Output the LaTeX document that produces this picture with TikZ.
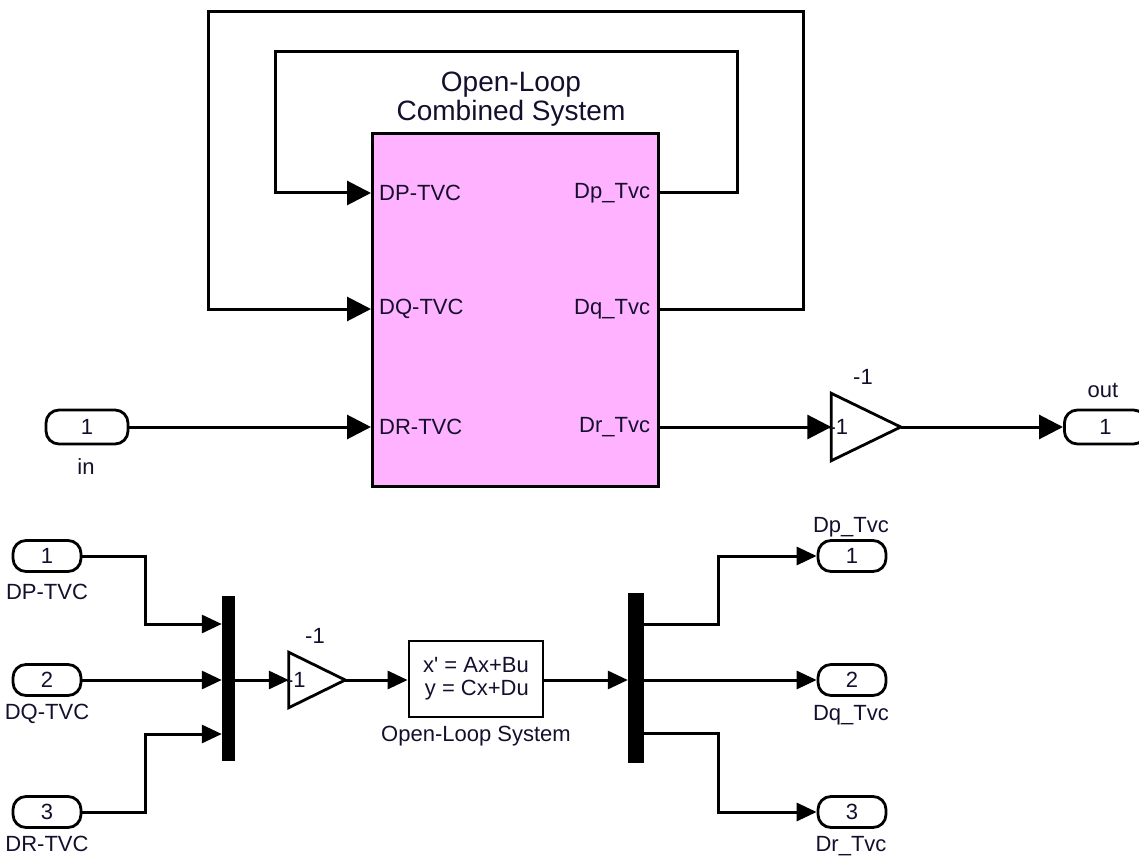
\documentclass[tikz,border=0pt]{standalone}
\usepackage{fontspec}
\setmainfont{Liberation Sans}[Ligatures=TeXOff]
\usetikzlibrary{arrows.meta}
\definecolor{pinkfill}{RGB}{255,178,255}
\definecolor{txt}{RGB}{20,15,45}
\newcommand\myLbl{\fontsize{22}{24}\selectfont}
\newcommand\myTitle{\fontsize{28}{29}\selectfont}
\tikzset{
  wire/.style={line width=3pt},
  bigarr/.style={wire,-{Triangle[length=24pt,width=24pt]}},
  smallarr/.style={wire,-{Triangle[length=20pt,width=18pt]}},
  port/.style={draw,line width=2.8pt,rounded corners=13pt,inner sep=0pt,font=\myLbl,text=txt},
  bport/.style={port,minimum width=82pt,minimum height=34pt},
  sport/.style={port,minimum width=68pt,minimum height=31pt},
  lbl/.style={inner sep=0pt,font=\myLbl,text=txt},
  gainbox/.style={inner sep=0pt},
  tri/.style={line width=2.8pt,line join=miter},
  bar/.style={fill=black,draw=none,inner sep=0pt},
}
\begin{document}
\begin{tikzpicture}[x=1pt,y=-1pt]
\useasboundingbox (0,0) rectangle (1139,858);

% ---------- top: combined system ----------
\node[draw,fill=pinkfill,line width=3.2pt,minimum width=286pt,minimum height=353pt,anchor=north west,inner sep=0pt] (cb) at (371,132) {};
\node[align=center,font=\myTitle,text=txt,inner sep=0pt] (cbt) at (511,99) {Open-Loop\\Combined System};

\coordinate (cbi1) at (cb.west |- 0,193);
\coordinate (cbi2) at (cb.west |- 0,309);
\coordinate (cbi3) at (cb.west |- 0,427);
\coordinate (cbo1) at (cb.east |- 0,193);
\coordinate (cbo2) at (cb.east |- 0,309);
\coordinate (cbo3) at (cb.east |- 0,427);

\node[lbl,anchor=west] (li1) at ([xshift=8pt]cbi1) {DP-TVC};
\node[lbl,anchor=west] (li2) at ([xshift=8pt]cbi2) {DQ-TVC};
\node[lbl,anchor=west] (li3) at ([xshift=8pt]cbi3) {DR-TVC};
\node[lbl,anchor=east] (lo1) at ([xshift=-10pt]cbo1) {Dp\_Tvc};
\node[lbl,anchor=east] (lo2) at ([xshift=-10pt]cbo2) {Dq\_Tvc};
\node[lbl,anchor=east] (lo3) at ([xshift=-10pt]cbo3) {Dr\_Tvc};

% feedback loops
\draw[bigarr] (cbo1) -- (737,193) |- (275,52) |- (cbi1);
\draw[bigarr] (cbo2) -- (803,309) |- (208,12) |- (cbi2);

% input
\node[bport] (in1) at (87,427) {1};
\node[lbl] (inl) at (86,467) {in};
\draw[bigarr] (in1.east) -- (cbi3);

% gain
\node[gainbox,minimum width=69pt,minimum height=67pt] (g1) at (866,427) {};
\draw[tri] (g1.north west) -- (g1.east) -- (g1.south west) -- cycle;
\node[lbl,anchor=west] (g1in) at ([xshift=-3pt]g1.west) {-1};
\node[lbl] (g1l) at (863,377) {-1};
\draw[bigarr] (cbo3) -- (g1.west);

% output
\node[bport,anchor=west] (out1) at (1063,427) {1};
\node[lbl] (outl) at (1103,390) {out};
\draw[bigarr] (g1.east) -- (out1.west);

% ---------- bottom: subsystem contents ----------
\node[sport] (ip1) at (47,556) {1};
\node[sport] (ip2) at (47,680) {2};
\node[sport] (ip3) at (47,812) {3};
\node[lbl] (ipl1) at (47,592) {DP-TVC};
\node[lbl] (ipl2) at (47,714) {DQ-TVC};
\node[lbl] (ipl3) at (47,844) {DR-TVC};

\node[bar,minimum width=13pt,minimum height=165pt] (mux) at (228.5,678.5) {};
\draw[smallarr] (ip1.east) -| (145,624) -- (mux.west |- 0,624);
\draw[smallarr] (ip2.east) -- (mux.west |- ip2.east);
\draw[smallarr] (ip3.east) -| (145,734) -- (mux.west |- 0,734);

\node[gainbox,minimum width=56pt,minimum height=55pt] (g2) at (317,680) {};
\draw[tri] (g2.north west) -- (g2.east) -- (g2.south west) -- cycle;
\node[lbl,anchor=west] (g2in) at ([xshift=-3pt]g2.west) {-1};
\node[lbl] (g2l) at (315,636) {-1};
\draw[smallarr] (mux.east |- g2.west) -- (g2.west);

\node[draw,line width=2.8pt,minimum width=134pt,minimum height=76pt,inner sep=0pt] (ss) at (476,679) {};
\node[lbl,align=right] (sst) at (ss.center) {x' = Ax+Bu\\[-1pt]y = Cx+Du};
\node[lbl] (ssl) at (476,736) {Open-Loop System};
\draw[smallarr] (g2.east) -- (g2.east -| ss.west);

\node[bar,minimum width=16pt,minimum height=170pt] (dmx) at (636,678) {};
\draw[smallarr] (ss.east |- 0,680) -- (dmx.west |- 0,680);

\node[sport] (op1) at (852,556) {1};
\node[sport] (op2) at (852,680) {2};
\node[sport] (op3) at (852,812) {3};
\node[lbl] (opl1) at (851,527) {Dp\_Tvc};
\node[lbl] (opl2) at (851,715) {Dq\_Tvc};
\node[lbl] (opl3) at (851,846) {Dr\_Tvc};

\draw[smallarr] (dmx.east |- 0,624) -- (718,624) |- (op1.west);
\draw[smallarr] (dmx.east |- 0,680) -- (op2.west);
\draw[smallarr] (dmx.east |- 0,733) -- (718,733) |- (op3.west);
\end{tikzpicture}
\end{document}
